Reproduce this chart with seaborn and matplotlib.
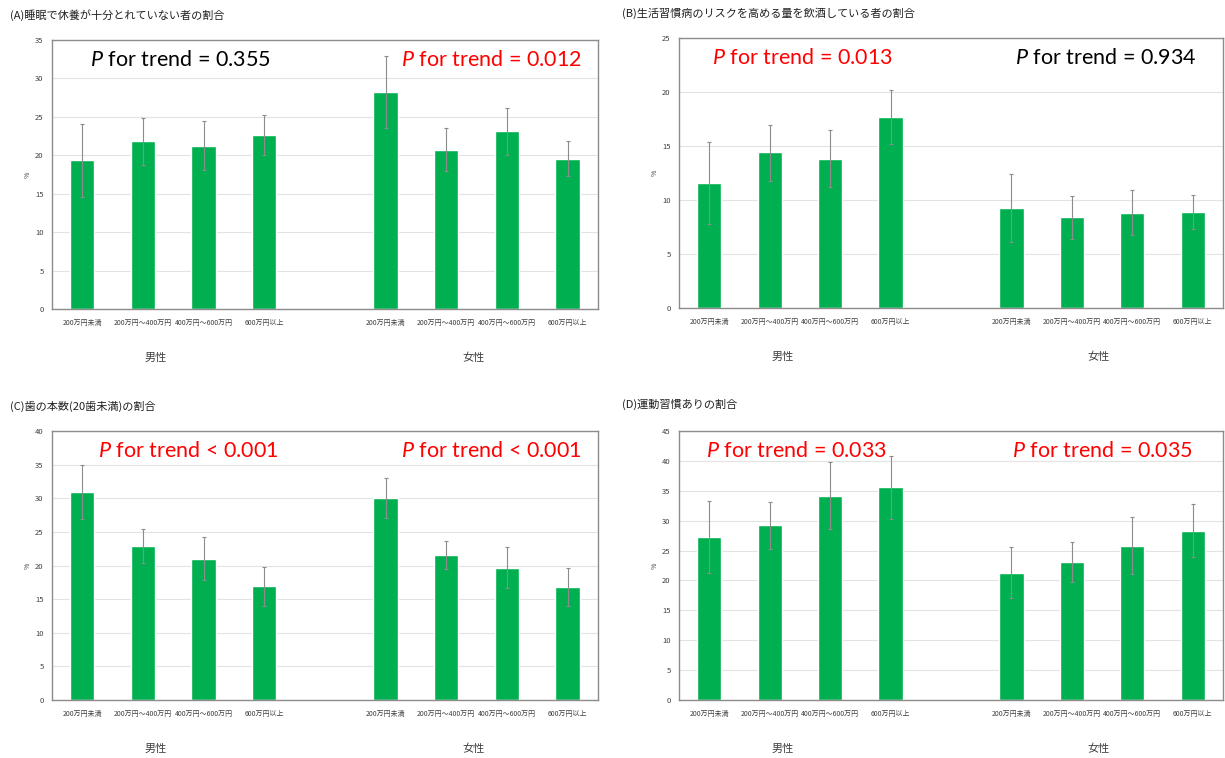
import numpy as np
import pandas as pd
import matplotlib.pyplot as plt
import seaborn as sns

# データ
income = ['200万円未満', '200万円～400万円', '400万円～600万円', '600万円以上']
sexes = ['男性', '女性']

titles = ['(A)睡眠で休養が十分とれていない者の割合',
          '(B)生活習慣病のリスクを高める量を飲酒している者の割合',
          '(C)歯の本数(20歯未満)の割合',
          '(D)運動習慣ありの割合']

# 男性4群 + 女性4群
a_val = [19.4, 21.8, 21.2, 22.6, 28.2, 20.7, 23.2, 19.5]
a_lo = [14.6, 18.7, 18.1, 20.0, 23.6, 17.9, 20.1, 17.3]
a_hi = [24.1, 24.9, 24.4, 25.3, 32.9, 23.5, 26.2, 21.9]

b_val = [11.6, 14.4, 13.8, 17.7, 9.3, 8.4, 8.8, 8.9]
b_lo = [7.8, 11.8, 11.2, 15.2, 6.1, 6.4, 6.8, 7.3]
b_hi = [15.4, 16.9, 16.5, 20.2, 12.4, 10.4, 10.9, 10.5]

c_val = [30.9, 22.9, 21.0, 16.9, 30.0, 21.6, 19.7, 16.8]
c_lo = [26.9, 20.4, 17.8, 14.0, 27.0, 19.5, 16.7, 14.0]
c_hi = [34.9, 25.4, 24.2, 19.8, 33.0, 23.7, 22.7, 19.7]

d_val = [27.2, 29.2, 34.2, 35.6, 21.3, 23.1, 25.8, 28.3]
d_lo = [21.2, 25.2, 28.6, 30.3, 17.0, 19.8, 21.0, 23.9]
d_hi = [33.3, 33.2, 39.8, 40.9, 25.6, 26.4, 30.6, 32.8]

y_max = [35, 25, 40, 45]

p_left = ['= 0.355', '= 0.013', '< 0.001', '= 0.033']
p_right = ['= 0.012', '= 0.934', '< 0.001', '= 0.035']
p_left_color = ['black', 'red', 'red', 'red']
p_right_color = ['red', 'black', 'red', 'red']

vals = [a_val, b_val, c_val, d_val]
los = [a_lo, b_lo, c_lo, d_lo]
his = [a_hi, b_hi, c_hi, d_hi]

sns.set_style('white')
plt.rcParams['font.family'] = ['Noto Sans CJK JP', 'DejaVu Sans']
plt.rcParams['mathtext.fontset'] = 'custom'
plt.rcParams['mathtext.it'] = 'Lato:italic'
plt.rcParams['mathtext.rm'] = 'Lato'

GREEN = '#00B050'
GRAY = '#8c8c8c'

fig = plt.figure(figsize=(12.25, 7.58), dpi=100)

positions = [
    (0.0424, 0.5923, 0.4457, 0.3549),
    (0.5543, 0.5937, 0.4441, 0.3562),
    (0.0424, 0.0765, 0.4457, 0.3549),
    (0.5543, 0.0765, 0.4441, 0.3549),
]
title_xy = [(0.008, 0.980), (0.508, 0.983), (0.008, 0.464), (0.508, 0.466)]
p_x = [(0.070, 0.639), (0.061, 0.618), (0.084, 0.639), (0.050, 0.612)]

keys = [f'{s}|{inc}' for s in sexes for inc in income]
order = keys[:4] + ['gap'] + keys[4:]
tick_labels = income + [''] + income

for i in range(4):
    ax = fig.add_axes(positions[i])
    df = pd.DataFrame({'key': keys, 'val': vals[i]})
    sns.barplot(data=df, x='key', y='val', order=order, color=GREEN,
                width=0.4, errorbar=None, saturation=1, ax=ax)

    v = np.array(vals[i])
    xpos = [order.index(k) for k in keys]
    yerr = [v - np.array(los[i]), np.array(his[i]) - v]
    ax.errorbar(xpos, v, yerr=yerr, fmt='none', ecolor=GRAY,
                elinewidth=0.8, capsize=1.5, capthick=0.8)

    ax.set_ylim(0, y_max[i])
    ax.set_yticks(np.arange(0, y_max[i] + 1, 5))
    ax.set_xlim(-0.5, 8.5)
    ax.set_xticks(range(9))
    ax.set_xticklabels(tick_labels, fontsize=5, color='#404040')
    ax.tick_params(axis='y', labelsize=5.5, labelcolor='#404040', length=0, pad=6)
    ax.tick_params(axis='x', length=0, pad=7)
    ax.set_xlabel('')
    ax.set_ylabel('')
    ax.grid(axis='y', color='#e3e3e3', linewidth=0.8)
    ax.set_axisbelow(True)
    for sp in ax.spines.values():
        sp.set_color(GRAY)
        sp.set_linewidth(1.0)

    ax.text(-0.044, 0.5, '%', transform=ax.transAxes, rotation=90,
            fontsize=5, ha='center', va='center', color='#404040')
    ax.text(0.19, -0.18, '男性', transform=ax.transAxes, fontsize=8,
            ha='center', va='center', color='#404040')
    ax.text(0.772, -0.18, '女性', transform=ax.transAxes, fontsize=8,
            ha='center', va='center', color='#404040')

    ax.text(p_x[i][0], 0.925, r'$\it{P}$ for trend ' + p_left[i], transform=ax.transAxes,
            fontsize=15.5, ha='left', va='center', color=p_left_color[i], family='Lato')
    ax.text(p_x[i][1], 0.925, r'$\it{P}$ for trend ' + p_right[i], transform=ax.transAxes,
            fontsize=15.5, ha='left', va='center', color=p_right_color[i], family='Lato')

    fig.text(title_xy[i][0], title_xy[i][1], titles[i], fontsize=8,
             ha='left', va='center', color='#202020')

fig.savefig('out.png', dpi=100)
